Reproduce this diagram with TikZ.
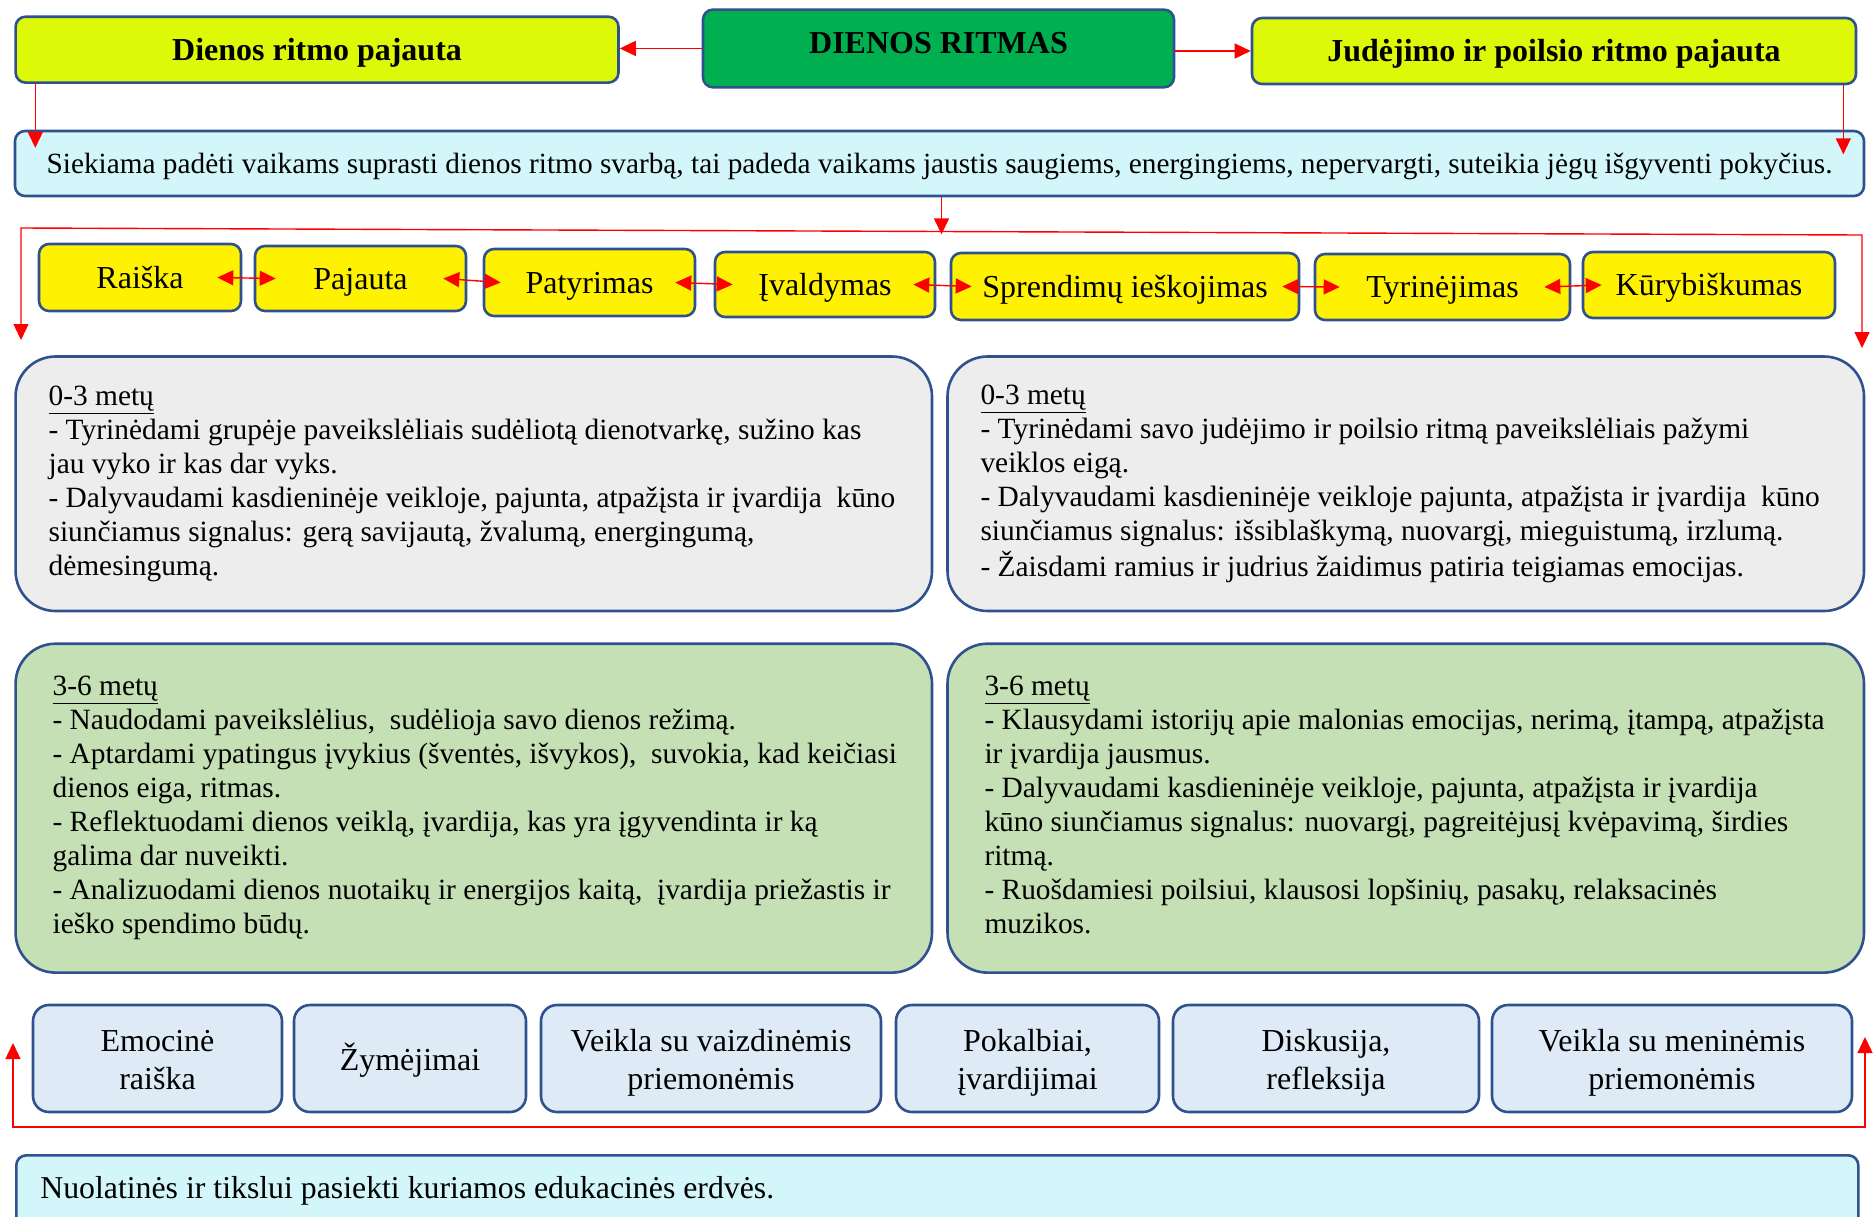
\documentclass[tikz,border=0pt]{standalone}
\usepackage{fontspec}
\setmainfont{Liberation Serif}
\usetikzlibrary{arrows.meta,calc}
\definecolor{bord}{RGB}{47,82,143}
\definecolor{lime}{RGB}{221,249,8}
\definecolor{hdrgreen}{RGB}{0,176,80}
\definecolor{lcyan}{RGB}{211,246,250}
\definecolor{lgrey}{RGB}{237,237,237}
\definecolor{lgreen}{RGB}{197,224,180}
\definecolor{lblue}{RGB}{222,234,246}
\definecolor{arrred}{RGB}{255,0,0}
\newcommand\mkbox[7]{\node[#6, minimum width={#4-#2}, minimum height={#5-#3}] (#1) at ({(#2+#4)/2},{(#3+#5)/2}) {#7};}
\newcommand\lines[2]{\makebox[#1][l]{\begin{tabular}{@{}l@{}}#2\end{tabular}}}
\newcommand\clines[1]{\raisebox{-4.5pt}[\height][\depth]{\begin{tabular}{@{}c@{}}#1\end{tabular}}}
\begin{document}
\begin{tikzpicture}[x=1pt,y=-1pt,
  bx/.style={draw=bord, line width=2.6pt, rounded corners=10pt, inner sep=0pt, align=center},
  hdr/.style={bx, font=\bfseries\fontsize{32}{37}\selectfont, text height=28.5pt, text depth=6.9pt},
  rowbox/.style={bx, fill=yellow, font=\fontsize{32}{37}\selectfont, text height=28.5pt, text depth=6.9pt},
  botbox/.style={bx, fill=lblue, rounded corners=16pt, font=\fontsize{32}{38.5}\selectfont},
  big/.style={bx, rounded corners=40pt, font=\fontsize{29.4}{34}\selectfont},
  redtip/.tip={Triangle[length=16pt,width=15pt]},
  ra/.style={draw=arrred, line width=1.4pt, -{redtip}},
  rab/.style={draw=arrred, line width=1.4pt, {redtip}-{redtip}}]
\useasboundingbox (0,0) rectangle (1876,1216);
\clip (0,0) rectangle (1876,1216);

% top
\mkbox{dr}{15.6}{16.7}{618.5}{82.6}{hdr, fill=lime}{Dienos ritmo pajauta}
\mkbox{dienos}{703}{9.6}{1174}{87.3}{hdr, fill=hdrgreen}{\raisebox{5.5pt}{DIENOS RITMAS}}
\mkbox{jud}{1252}{18}{1856}{84}{hdr, fill=lime}{Judėjimo ir poilsio ritmo pajauta}
\mkbox{siek}{15}{131}{1864}{196}{bx, fill=lcyan, font=\fontsize{29.3}{34}\selectfont, text height=26.1pt, text depth=6.3pt}{Siekiama padėti vaikams suprasti dienos ritmo svarbą, tai padeda vaikams jaustis saugiems, energingiems, nepervargti, suteikia jėgų išgyventi pokyčius.}

% row
\mkbox{r1}{39}{244}{241}{311}{rowbox}{Raiška}
\mkbox{r2}{255}{246}{466}{311}{rowbox}{Pajauta}
\mkbox{r3}{484}{249}{695}{316}{rowbox}{Patyrimas}
\mkbox{r4}{715}{252}{935}{317}{rowbox}{Įvaldymas}
\mkbox{r5}{951}{253}{1299}{320}{rowbox}{Sprendimų ieškojimas}
\mkbox{r6}{1315}{254}{1570}{320}{rowbox}{Tyrinėjimas}
\mkbox{r7}{1583}{252}{1835}{318}{rowbox}{Kūrybiškumas}

% big boxes
\mkbox{g1}{15.6}{356.5}{932}{611}{big, fill=lgrey, inner xsep=33pt}{\lines{850.4pt}{\underline{0-3 metų}\\
- Tyrinėdami grupėje paveikslėliais sudėliotą dienotvarkę, sužino kas\\
jau vyko ir kas dar vyks.\\
- Dalyvaudami kasdieninėje veikloje, pajunta, atpažįsta ir įvardija~ kūno\\
siunčiamus signalus: gerą savijautą, žvalumą, energingumą,\\
dėmesingumą.}}
\mkbox{g2}{947.5}{356.5}{1864}{611}{big, fill=lgrey, inner xsep=33pt}{\lines{850.5pt}{\underline{0-3 metų}\\
- Tyrinėdami savo judėjimo ir poilsio ritmą paveikslėliais pažymi\\
veiklos eigą.\\
- Dalyvaudami kasdieninėje veikloje pajunta, atpažįsta ir įvardija~ kūno\\
siunčiamus signalus: išsiblaškymą, nuovargį, mieguistumą, irzlumą.\\
- Žaisdami ramius ir judrius žaidimus patiria teigiamas emocijas.}}
\mkbox{n1}{15.6}{643.7}{932}{972.6}{big, fill=lgreen, inner xsep=37pt}{\lines{842.4pt}{\underline{3-6 metų}\\
- Naudodami paveikslėlius,~ sudėlioja savo dienos režimą.\\
- Aptardami ypatingus įvykius (šventės, išvykos),~ suvokia, kad keičiasi\\
dienos eiga, ritmas.\\
- Reflektuodami dienos veiklą, įvardija, kas yra įgyvendinta ir ką\\
galima dar nuveikti.\\
- Analizuodami dienos nuotaikų ir energijos kaitą,~ įvardija priežastis ir\\
ieško spendimo būdų.}}
\mkbox{n2}{947.5}{643.7}{1864}{972.6}{big, fill=lgreen, inner xsep=37pt}{\lines{842.5pt}{\underline{3-6 metų}\\
- Klausydami istorijų apie malonias emocijas, nerimą, įtampą, atpažįsta\\
ir įvardija jausmus.\\
- Dalyvaudami kasdieninėje veikloje, pajunta, atpažįsta ir įvardija\\
kūno siunčiamus signalus: nuovargį, pagreitėjusį kvėpavimą, širdies\\
ritmą.\\
- Ruošdamiesi poilsiui, klausosi lopšinių, pasakų, relaksacinės\\
muzikos.}}

% bottom row
\mkbox{b1}{33}{1005}{282}{1112}{botbox}{\clines{Emocinė\\raiška}}
\mkbox{b2}{294}{1005}{526}{1112}{botbox}{\clines{Žymėjimai}}
\mkbox{b3}{541}{1005}{881}{1112}{botbox}{\clines{Veikla su vaizdinėmis\\priemonėmis}}
\mkbox{b4}{896}{1005}{1159}{1112}{botbox}{\clines{Pokalbiai,\\įvardijimai}}
\mkbox{b5}{1173}{1005}{1479}{1112}{botbox}{\clines{Diskusija,\\refleksija}}
\mkbox{b6}{1492}{1005}{1852}{1112}{botbox}{\clines{Veikla su meninėmis\\priemonėmis}}

\node[bx, fill=lcyan, anchor=north west, minimum width=1842, minimum height=72, inner xsep=24pt, font=\fontsize{31.8}{37}\selectfont] (nuo) at (15,1154) {\lines{1794pt}{Nuolatinės ir tikslui pasiekti kuriamos edukacinės erdvės.}};

% arrows top
\draw[ra] (dienos.west) -- (dienos.west -| dr.east);
\draw[ra] (dienos.east |- jud.west) -- (jud.west);
\draw[ra] ([xshift=21pt]dr.south west) -- ++(0,64);
\draw[ra] ([xshift=-14pt]jud.south east) -- ++(0,69);
\coordinate (L1) at (21,340);
\coordinate (L2) at (21,228);
\coordinate (R2) at (1862,235);
\coordinate (R1) at (1862,348);
\draw[ra] ([xshift=2pt]siek.south) -- ++(0,37);
\draw[rab] (L1) -- (L2) -- (R2) -- (R1);

% row arrows
\draw[rab] ([xshift=-25pt]r1.east) -- ([xshift=22pt]r2.west);
\draw[rab] ([xshift=-24pt]r2.east) -- ([xshift=18pt]r3.west);
\draw[rab] ([xshift=-21pt]r3.east) -- ([xshift=19pt]r4.west);
\draw[rab] ([xshift=-23pt]r4.east) -- ([xshift=22pt]r5.west);
\draw[rab] ([xshift=-18pt]r5.east) -- ([xshift=26pt]r6.west);
\draw[rab] ([xshift=-27pt]r6.east) -- ([xshift=20pt]r7.west);

% bottom loop
\coordinate (BL1) at (13,1043);
\coordinate (BL2) at (13,1127);
\coordinate (BR2) at (1865,1127);
\coordinate (BR1) at (1865,1037);
\draw[rab] (BL1) -- (BL2) -- (BR2) -- (BR1);
\end{tikzpicture}
\end{document}
